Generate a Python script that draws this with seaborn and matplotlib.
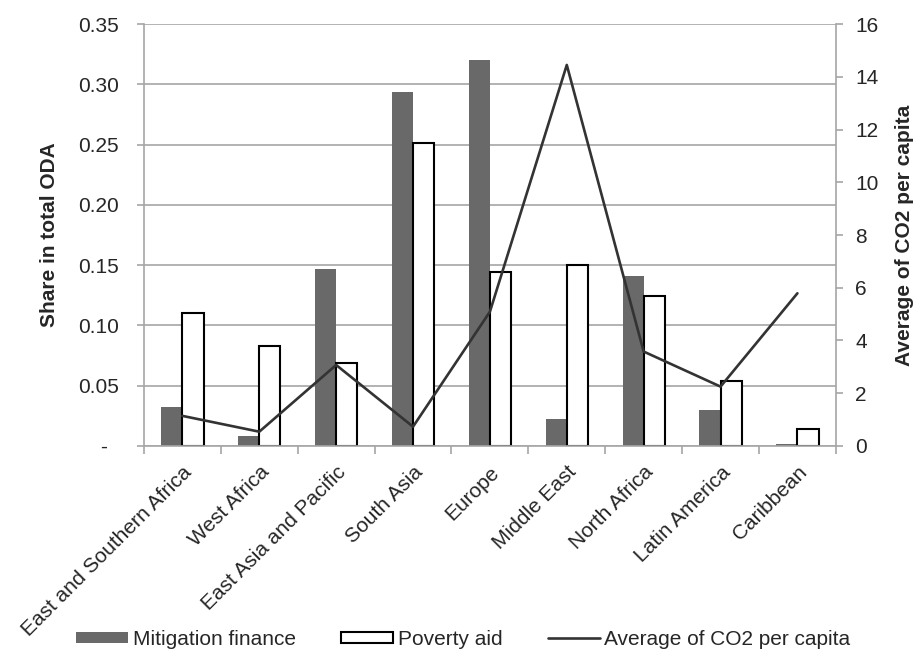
import numpy as np
import pandas as pd
import matplotlib
matplotlib.use("Agg")
import matplotlib.pyplot as plt
import seaborn as sns
from matplotlib.patches import Patch
from matplotlib.lines import Line2D
from matplotlib.ticker import FuncFormatter, FixedLocator

regions = ["East and Southern Africa", "West Africa", "East Asia and Pacific", "South Asia",
           "Europe", "Middle East", "North Africa", "Latin America", "Caribbean"]
mitigation = [0.032, 0.008, 0.147, 0.294, 0.320, 0.022, 0.141, 0.030, 0.002]
poverty = [0.110, 0.083, 0.069, 0.251, 0.144, 0.150, 0.124, 0.054, 0.014]
co2 = [1.14, 0.54, 3.07, 0.73, 5.09, 14.45, 3.58, 2.25, 5.79]
series_names = ["Mitigation finance", "Poverty aid"]

sns.set_style("white")
plt.rcParams['font.family'] = ['Liberation Sans', 'DejaVu Sans']
FS = 15

df = pd.DataFrame({
    "region": regions * 2,
    "value": mitigation + poverty,
    "series": [series_names[0]] * len(regions) + [series_names[1]] * len(regions),
})

fig = plt.figure(figsize=(9.14, 6.51), dpi=100)
ax = fig.add_axes([0.1575, 0.315, 0.757, 0.648])
grid_c = "#a6a6a6"
sns.barplot(data=df, x="region", y="value", hue="series", order=regions,
            palette={series_names[0]: "#696969", series_names[1]: "white"},
            width=0.55, ax=ax, legend=False, saturation=1)
for p in ax.containers[0]:
    p.set_edgecolor("none")
for p in ax.containers[1]:
    p.set_edgecolor("black")
    p.set_linewidth(1.5)

ax.set_xlim(-0.5, len(regions) - 0.5)
ax.set_ylim(0, 0.35)
ax.set_yticks(np.arange(0, 0.351, 0.05))
ax.yaxis.set_major_formatter(FuncFormatter(lambda v, p: "-  " if abs(v) < 1e-9 else f"{v:.2f}"))
ax.grid(axis="y", color=grid_c, lw=1.2)
ax.set_axisbelow(True)
for s in ["top", "right"]:
    ax.spines[s].set_visible(False)
ax.spines["left"].set_color(grid_c)
ax.spines["bottom"].set_color(grid_c)
ax.spines["left"].set_linewidth(1.2)
ax.spines["bottom"].set_linewidth(1.2)
ax.tick_params(axis="y", length=5, color=grid_c, width=1.2, labelsize=FS, pad=13, left=True)
ax.set_xticks(range(len(regions)))
ax.set_xticklabels(regions, rotation=45, ha="right", rotation_mode="anchor", fontsize=FS)
ax.tick_params(axis="x", length=0, pad=12)
ax.xaxis.set_minor_locator(FixedLocator(np.arange(-0.5, len(regions), 1.0)))
ax.tick_params(axis="x", which="minor", length=6, color=grid_c, width=1.2, bottom=True)
ax.set_xlabel("")
ax.set_ylabel("Share in total ODA", fontsize=FS, fontweight="bold", labelpad=14)

ax2 = ax.twinx()
sns.lineplot(x=np.arange(len(regions)), y=co2, ax=ax2, color="#333333", lw=1.9)
ax2.set_ylim(0, 16)
ax2.set_yticks(np.arange(0, 17, 2))
ax2.tick_params(axis="y", labelsize=FS, length=5, color=grid_c, width=1.2, pad=9)
for s in ["top", "left", "bottom"]:
    ax2.spines[s].set_visible(False)
ax2.spines["right"].set_color(grid_c)
ax2.spines["right"].set_linewidth(1.2)
ax2.set_ylabel("Average of CO2 per capita", fontsize=FS, fontweight="bold", labelpad=12)
ax2.set_xlim(-0.5, len(regions) - 0.5)

handles = [Patch(facecolor="#696969", edgecolor="none", label=series_names[0]),
           Patch(facecolor="white", edgecolor="black", lw=1.5, label=series_names[1]),
           Line2D([0], [0], color="#333333", lw=1.9, label="Average of CO2 per capita")]
fig.legend(handles=handles, loc="center", bbox_to_anchor=(0.507, 0.018), ncol=3,
           frameon=False, fontsize=FS, handlelength=2.5, handleheight=0.45,
           handletextpad=0.2, columnspacing=2.2, borderpad=0.1)

fig.savefig("out.png", dpi=100)
